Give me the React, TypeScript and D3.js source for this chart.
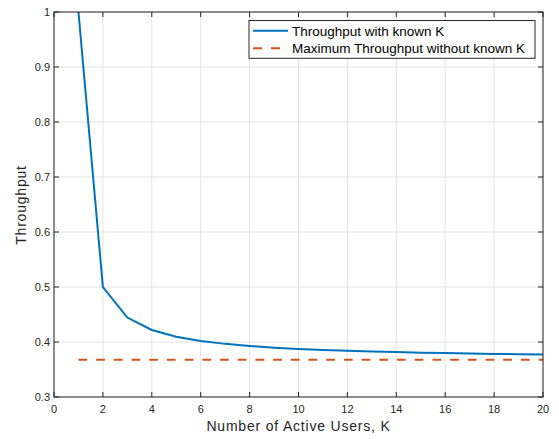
import React from "react";
import * as d3 from "d3";

const users = [1, 2, 3, 4, 5, 6, 7, 8, 9, 10, 11, 12, 13, 14, 15, 16, 17, 18, 19, 20];
const throughputKnown = [1.0, 0.5, 0.4444, 0.4219, 0.4096, 0.4019, 0.3966, 0.3927, 0.3897, 0.3874, 0.3855, 0.3840, 0.3827, 0.3816, 0.3806, 0.3798, 0.3791, 0.3784, 0.3779, 0.3774];
const throughputUnknown = [0.3679, 0.3679, 0.3679, 0.3679, 0.3679, 0.3679, 0.3679, 0.3679, 0.3679, 0.3679, 0.3679, 0.3679, 0.3679, 0.3679, 0.3679, 0.3679, 0.3679, 0.3679, 0.3679, 0.3679];
const xTicks = [0, 2, 4, 6, 8, 10, 12, 14, 16, 18, 20];
const yTicks = [0.3, 0.4, 0.5, 0.6, 0.7, 0.8, 0.9, 1];
const seriesNames = ["Throughput with known K", "Maximum Throughput without known K"];

export default function App() {
  const W = 559, H = 439;
  const L = 54, R = 543, T = 12, B = 397;
  const x = d3.scaleLinear().domain([0, 20]).range([L, R]);
  const y = d3.scaleLinear().domain([0.3, 1]).range([B, T]);
  const mk = d3.line<number>().x((_, i) => x(users[i])).y((d) => y(d));
  const pathKnown = mk(throughputKnown) || "";
  const pathUnknown = mk(throughputUnknown) || "";
  const font = "'Liberation Sans', Arial, Helvetica, sans-serif";
  const tc = "#262626";
  const tl = 5;
  return (
    <svg width={W} height={H} style={{ position: "absolute", left: 0, top: 0 }} fontFamily={font}>
      <rect x={0} y={0} width={W} height={H} fill="#fff" />
      <rect x={L} y={T} width={R - L} height={B - T} fill="#fff" />
      {xTicks.map((t) => (
        <line key={"gx" + t} x1={x(t)} x2={x(t)} y1={T} y2={B} stroke="#e3e3e3" strokeWidth={1} />
      ))}
      {yTicks.map((t) => (
        <line key={"gy" + t} x1={L} x2={R} y1={y(t)} y2={y(t)} stroke="#e3e3e3" strokeWidth={1} />
      ))}
      <path d={pathUnknown} fill="none" stroke="#D95319" strokeWidth={2} strokeDasharray="8.7,9" />
      <path d={pathKnown} fill="none" stroke="#0072BD" strokeWidth={2} />
      {xTicks.map((t) => (
        <g key={"tx" + t}>
          <line x1={x(t)} x2={x(t)} y1={B} y2={B - tl} stroke={tc} />
          <line x1={x(t)} x2={x(t)} y1={T} y2={T + tl} stroke={tc} />
          <text x={x(t)} y={B + 16} textAnchor="middle" fontSize={11} fill={tc}>{t}</text>
        </g>
      ))}
      {yTicks.map((t) => (
        <g key={"ty" + t}>
          <line x1={L} x2={L + tl} y1={y(t)} y2={y(t)} stroke={tc} />
          <line x1={R} x2={R - tl} y1={y(t)} y2={y(t)} stroke={tc} />
          <text x={L - 4} y={y(t) + 4} textAnchor="end" fontSize={11} fill={tc}>{String(t)}</text>
        </g>
      ))}
      <rect x={L} y={T} width={R - L} height={B - T} fill="none" stroke={tc} strokeWidth={1} />
      <text x={(L + R) / 2} y={431} textAnchor="middle" fontSize={14} letterSpacing={0.8} fill={tc}>Number of Active Users, K</text>
      <text transform={`translate(${26},${205}) rotate(-90)`} textAnchor="middle" fontSize={14} letterSpacing={0.8} fill={tc}>Throughput</text>
      <g>
        <rect x={249} y={20.5} width={286} height={37.8} fill="#fff" stroke={tc} strokeWidth={1} />
        <line x1={253} x2={288} y1={30.7} y2={30.7} stroke="#0072BD" strokeWidth={2} />
        <text x={292} y={35.8} fontSize={13.5} fill="#000">{seriesNames[0]}</text>
        <line x1={253} x2={288} y1={48.3} y2={48.3} stroke="#D95319" strokeWidth={2} strokeDasharray="9,9" />
        <text x={292} y={53.3} fontSize={13.5} fill="#000">{seriesNames[1]}</text>
      </g>
    </svg>
  );
}
